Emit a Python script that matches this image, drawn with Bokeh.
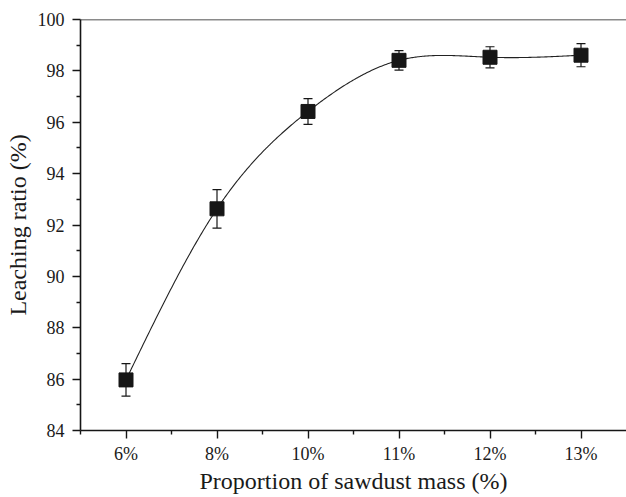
import numpy as np
from bokeh.plotting import figure
from bokeh.models import ColumnDataSource, Range1d, FixedTicker, Whisker, TeeHead, Span
from bokeh.embed import file_html
from bokeh.resources import INLINE

# ---- data ----
categories = ["6%", "8%", "10%", "11%", "12%", "13%"]
positions = [1, 2, 3, 4, 5, 6]
leaching = [85.97, 92.63, 96.42, 98.41, 98.53, 98.61]
errors = [0.63, 0.75, 0.50, 0.38, 0.41, 0.45]
y_ticks = [84, 86, 88, 90, 92, 94, 96, 98, 100]
x_title = "Proportion of sawdust mass (%)"
y_title = "Leaching ratio (%)"

FONT = "Liberation Serif"
INK = "#161616"


def natural_spline(xs, ys, n=400):
    xs = np.asarray(xs, float)
    ys = np.asarray(ys, float)
    k = len(xs)
    h = np.diff(xs)
    A = np.zeros((k, k))
    b = np.zeros(k)
    A[0, 0] = 1
    A[-1, -1] = 1
    for i in range(1, k - 1):
        A[i, i - 1] = h[i - 1]
        A[i, i] = 2 * (h[i - 1] + h[i])
        A[i, i + 1] = h[i]
        b[i] = 6 * ((ys[i + 1] - ys[i]) / h[i] - (ys[i] - ys[i - 1]) / h[i - 1])
    M = np.linalg.solve(A, b)
    xx = np.linspace(xs[0], xs[-1], n)
    yy = np.empty_like(xx)
    for j, x in enumerate(xx):
        i = min(np.searchsorted(xs, x, side="right") - 1, k - 2)
        t1 = xs[i + 1] - x
        t0 = x - xs[i]
        yy[j] = (M[i] * t1 ** 3 / (6 * h[i]) + M[i + 1] * t0 ** 3 / (6 * h[i])
                 + (ys[i] / h[i] - M[i] * h[i] / 6) * t1
                 + (ys[i + 1] / h[i] - M[i + 1] * h[i] / 6) * t0)
    return xx, yy


lo = [v - e for v, e in zip(leaching, errors)]
hi = [v + e for v, e in zip(leaching, errors)]
src = ColumnDataSource(dict(x=positions, y=leaching, lo=lo, hi=hi))

p = figure(width=626, height=497, x_range=Range1d(0.5, 6.5), y_range=Range1d(84, 100),
           output_backend="svg", toolbar_location=None,
           min_border_left=80, min_border_right=0, min_border_top=19, min_border_bottom=67)
p.outline_line_color = None
p.xgrid.visible = False
p.ygrid.visible = False
p.background_fill_color = "white"
p.border_fill_color = "white"

# smooth curve through the points
sx, sy = natural_spline(positions, leaching)
p.line(sx, sy, line_color="#222222", line_width=1.1)

# error bars
wh = Whisker(source=src, base="x", upper="hi", lower="lo", line_color=INK, line_width=1.2,
             upper_head=TeeHead(size=9, line_color=INK, line_width=1.2),
             lower_head=TeeHead(size=9, line_color=INK, line_width=1.2))
p.add_layout(wh)

# markers
p.scatter("x", "y", source=src, marker="square", size=14, fill_color=INK, line_color=INK)

# top frame line
p.add_layout(Span(location=100, dimension="width", line_color=INK, line_width=1.6))

# axes
for ax in (p.xaxis[0], p.yaxis[0]):
    ax.axis_line_color = INK
    ax.axis_line_width = 1.6
    ax.major_tick_line_color = INK
    ax.minor_tick_line_color = INK
    ax.major_tick_line_width = 1.4
    ax.minor_tick_line_width = 1.4
    ax.major_tick_in = 0
    ax.minor_tick_in = 0
    ax.major_label_text_font = FONT
    ax.major_label_text_color = "#1a1a1a"
    ax.major_label_text_font_size = "18px"
    ax.axis_label_text_font = FONT
    ax.axis_label_text_font_style = "normal"
    ax.axis_label_text_color = "#1a1a1a"
    ax.axis_label_text_font_size = "24px"

p.xaxis.ticker = FixedTicker(ticks=positions, minor_ticks=[0.5, 1.5, 2.5, 3.5, 4.5, 5.5])
p.xaxis.major_label_overrides = {pos: c for pos, c in zip(positions, categories)}
p.xaxis.major_tick_out = 8
p.xaxis.minor_tick_out = 4
p.xaxis.major_label_standoff = 5
p.xaxis.axis_label = x_title
p.xaxis.axis_label_standoff = 1

p.yaxis.ticker = FixedTicker(ticks=y_ticks, minor_ticks=[85, 87, 89, 91, 93, 95, 97, 99])
p.yaxis.major_tick_out = 8
p.yaxis.minor_tick_out = 4
p.yaxis.major_label_standoff = 8
p.yaxis.axis_label = y_title
p.yaxis.axis_label_standoff = 4

open("out.html", "w").write(file_html(p, INLINE))
